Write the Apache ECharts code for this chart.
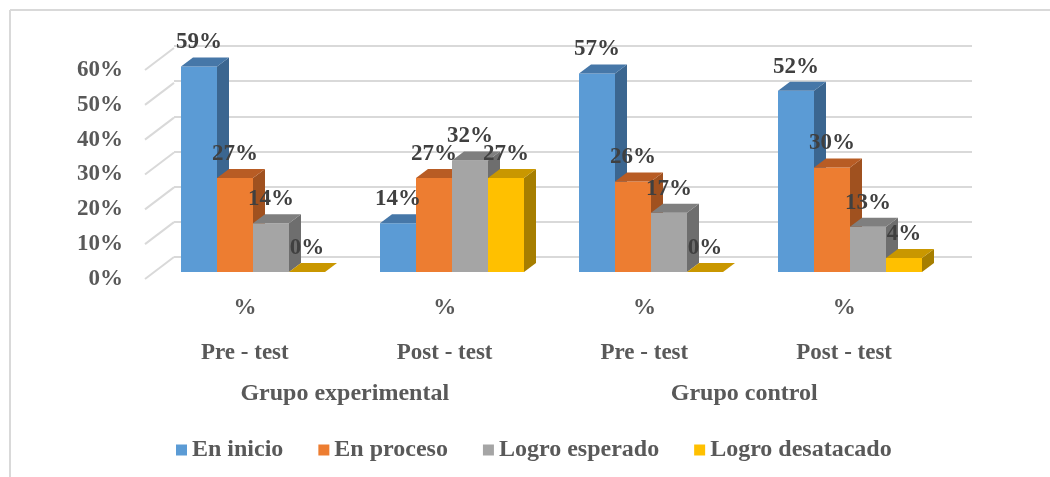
<!DOCTYPE html>
<html>
<head>
<meta charset="utf-8">
<script src="https://cdn.jsdelivr.net/npm/echarts@6/dist/echarts.min.js"></script>
<style>
  html, body { margin: 0; padding: 0; background: #fff; }
  #chart { width: 1050px; height: 477px; }
</style>
</head>
<body>
<div id="chart"></div>
<script>
// datos del gráfico
const categories = ['Pre - test', 'Post - test', 'Pre - test', 'Post - test']
const unitLabel = '%'
const groups = ['Grupo experimental', 'Grupo control']
const yTicks = [0, 10, 20, 30, 40, 50, 60]

const seriesNames = ['En inicio', 'En proceso', 'Logro esperado', 'Logro desatacado']
const enInicio = [59, 14, 57, 52]
const enProceso = [27, 27, 26, 30]
const logroEsperado = [14, 32, 17, 13]
const logroDestacado = [0, 27, 0, 4]
const seriesValues = [enInicio, enProceso, logroEsperado, logroDestacado]

// colores: cara frontal, cara superior, cara lateral
const frontColors = ['#5B9BD5', '#ED7D31', '#A5A5A5', '#FFC000']
const topColors = ['#4677A8', '#B85C24', '#7F7F7F', '#C99700']
const sideColors = ['#3B6690', '#A0511F', '#6E6E6E', '#A67E00']

const FONT = '"Liberation Serif", "Times New Roman", serif'
const BAR_W = 36
const DEPTH_X = 12
const DEPTH_Y = -9

const chart = echarts.init(document.getElementById('chart'), null, { renderer: 'canvas' })

// barra 3D: cara frontal + superior + lateral
const makeBarRender = (si) => (params, api) => {
  if (!api || typeof api.coord !== 'function') return null
  const idx = api.value(0)
  const val = api.value(1)
  const base = api.coord([idx, 0])
  const top = api.coord([idx, val])
  const x0 = base[0] - (BAR_W * seriesValues.length) / 2 + si * BAR_W
  const x1 = x0 + BAR_W
  const yb = base[1]
  const yt = top[1]
  const zb = si * 4
  return {
    type: 'group',
    children: [
      {
        type: 'polygon',
        z2: zb + 1,
        shape: { points: [[x1, yb], [x1 + DEPTH_X, yb + DEPTH_Y], [x1 + DEPTH_X, yt + DEPTH_Y], [x1, yt]] },
        style: { fill: sideColors[si] }
      },
      {
        type: 'rect',
        z2: zb + 2,
        shape: { x: x0, y: yt, width: BAR_W, height: yb - yt },
        style: { fill: frontColors[si] }
      },
      {
        type: 'polygon',
        z2: zb + 3,
        shape: { points: [[x0, yt], [x0 + DEPTH_X, yt + DEPTH_Y], [x1 + DEPTH_X, yt + DEPTH_Y], [x1, yt]] },
        style: { fill: topColors[si] }
      },
      {
        type: 'text',
        z2: 100,
        style: {
          x: (x0 + x1) / 2,
          y: yt - 24,
          text: val + '%',
          align: 'center',
          verticalAlign: 'middle',
          fill: '#404040',
          font: 'bold 23px ' + FONT
        }
      }
    ]
  }
}

// líneas diagonales del piso / pared izquierda
const diagRender = (params, api) => {
  if (!api || typeof api.coord !== 'function') return null
  const p = api.coord([0, api.value(1)])
  const x = params.coordSys.x
  return {
    type: 'line',
    shape: { x1: x, y1: p[1], x2: x + 29, y2: p[1] - 22 },
    style: { stroke: '#D9D9D9', lineWidth: 2 }
  }
}

const barSeries = seriesNames.map((name, si) => ({
  name,
  type: 'custom',
  coordinateSystem: 'cartesian2d',
  xAxisIndex: 3,
  yAxisIndex: 2,
  itemStyle: { color: frontColors[si] },
  renderItem: makeBarRender(si),
  encode: { x: 0, y: 1 },
  data: seriesValues[si].map((v, i) => [i, v])
}))

const labelText = {
  color: '#595959',
  fontFamily: FONT,
  fontWeight: 'bold',
  fontSize: 24
}

const option = {
  backgroundColor: '#fff',
  animation: false,
  graphic: [
    { type: 'line', shape: { x1: 10, y1: 10, x2: 1050, y2: 10 }, style: { stroke: '#D9D9D9', lineWidth: 2 } },
    { type: 'line', shape: { x1: 10, y1: 10, x2: 10, y2: 477 }, style: { stroke: '#D9D9D9', lineWidth: 2 } }
  ],
  grid: [
    // pared del fondo
    { left: 174, right: 78, top: 46, bottom: 220 },
    // borde frontal del piso (etiquetas)
    { left: 145, right: 106, top: 70, bottom: 198 },
    // plano de las barras
    { left: 153.5, right: 100.5, top: 63, bottom: 205 }
  ],
  xAxis: [
    { gridIndex: 0, type: 'category', data: categories, show: false },
    {
      gridIndex: 1,
      type: 'category',
      data: categories,
      axisLine: { show: false },
      axisTick: { show: false },
      axisLabel: {
        ...labelText,
        fontSize: 23,
        margin: 7,
        lineHeight: 45,
        formatter: (v) => unitLabel + '\n' + v
      }
    },
    {
      gridIndex: 1,
      type: 'category',
      data: groups,
      position: 'bottom',
      offset: 100,
      axisLine: { show: false },
      axisTick: { show: false },
      axisLabel: { ...labelText, margin: 3 }
    },
    { gridIndex: 2, type: 'category', data: categories, show: false }
  ],
  yAxis: [
    {
      gridIndex: 0,
      type: 'value',
      min: 0,
      max: 60,
      interval: 10,
      axisLabel: { show: false },
      axisLine: { show: false },
      axisTick: { show: false },
      splitLine: { lineStyle: { color: '#D9D9D9', width: 2 } }
    },
    {
      gridIndex: 1,
      type: 'value',
      min: 0,
      max: 60,
      interval: 10,
      axisLine: { show: false },
      axisTick: { show: false },
      splitLine: { show: false },
      axisLabel: { ...labelText, fontSize: 23, margin: 22, formatter: '{value}%' }
    },
    { gridIndex: 2, type: 'value', min: 0, max: 60, show: false }
  ],
  legend: {
    data: seriesNames,
    top: 433,
    left: 171,
    icon: 'rect',
    itemWidth: 11,
    itemHeight: 11,
    itemGap: 35,
    textStyle: { ...labelText }
  },
  series: [
    {
      type: 'custom',
      coordinateSystem: 'cartesian2d',
      xAxisIndex: 1,
      yAxisIndex: 1,
      silent: true,
      renderItem: diagRender,
      encode: { x: 0, y: 1 },
      data: yTicks.map((t) => [0, t])
    },
    ...barSeries
  ]
}

chart.setOption(option)
window.addEventListener('resize', () => chart.resize())
</script>
</body>
</html>
